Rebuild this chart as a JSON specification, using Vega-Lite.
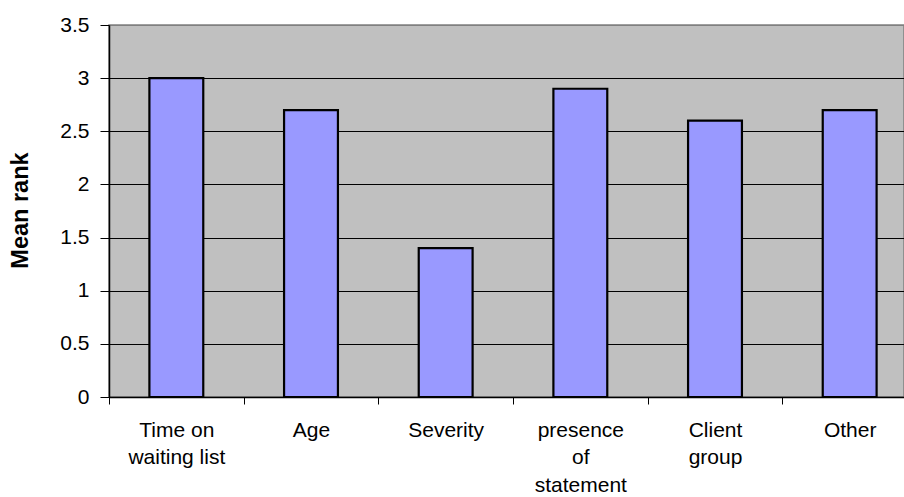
{
  "$schema": "https://vega.github.io/schema/vega-lite/v6.json",
  "autosize": {"type": "none"},
  "padding": {"left": 109, "top": 25, "right": 0, "bottom": 100},
  "width": 795,
  "height": 372,
  "background": "white",
  "config": {
    "font": "Liberation Sans",
    "view": {"fill": "#C0C0C0", "stroke": "#808080", "strokeWidth": 1.5}
  },
  "data": {
    "values": [
      {"factor": "Time on waiting list", "rank": 3.0},
      {"factor": "Age", "rank": 2.7},
      {"factor": "Severity", "rank": 1.4},
      {"factor": "presence of statement", "rank": 2.9},
      {"factor": "Client group", "rank": 2.6},
      {"factor": "Other", "rank": 2.7}
    ]
  },
  "mark": {"type": "bar", "fill": "#9999FF", "stroke": "black", "strokeWidth": 2.2, "width": {"band": 0.4}},
  "encoding": {
    "x": {
      "field": "factor",
      "type": "nominal",
      "sort": null,
      "scale": {"range": [0, 808], "paddingInner": 0, "paddingOuter": 0},
      "axis": {
        "title": null,
        "labelAngle": 0,
        "tickBand": "extent",
        "tickSize": 7,
        "tickColor": "black",
        "domainColor": "black",
        "domainWidth": 1.5,
        "labelFontSize": 21,
        "labelColor": "black",
        "labelPadding": 32,
        "labelLineHeight": 27.5,
        "labelBaseline": "alphabetic",
        "labelExpr": "datum.value == 'Time on waiting list' ? ['Time on', 'waiting list'] : datum.value == 'presence of statement' ? ['presence', 'of', 'statement'] : datum.value == 'Client group' ? ['Client', 'group'] : datum.value"
      }
    },
    "y": {
      "field": "rank",
      "type": "quantitative",
      "scale": {"domain": [0, 3.5], "nice": false},
      "axis": {
        "title": "Mean rank",
        "titleFontSize": 23.5,
        "titleFontWeight": "bold",
        "titleColor": "black",
        "titleX": -89,
        "titleY": 185,
        "titleAlign": "center",
        "titleBaseline": "middle",
        "titleAngle": -90,
        "values": [0, 0.5, 1, 1.5, 2, 2.5, 3, 3.5],
        "format": "~g",
        "grid": true,
        "gridColor": {"condition": {"test": "datum.value === 3.5", "value": "#808080"}, "value": "black"},
        "gridWidth": 1,
        "tickSize": 9,
        "tickColor": "black",
        "domainColor": "black",
        "domainWidth": 1.5,
        "labelFontSize": 21,
        "labelColor": "black",
        "labelPadding": 11
      }
    }
  }
}
